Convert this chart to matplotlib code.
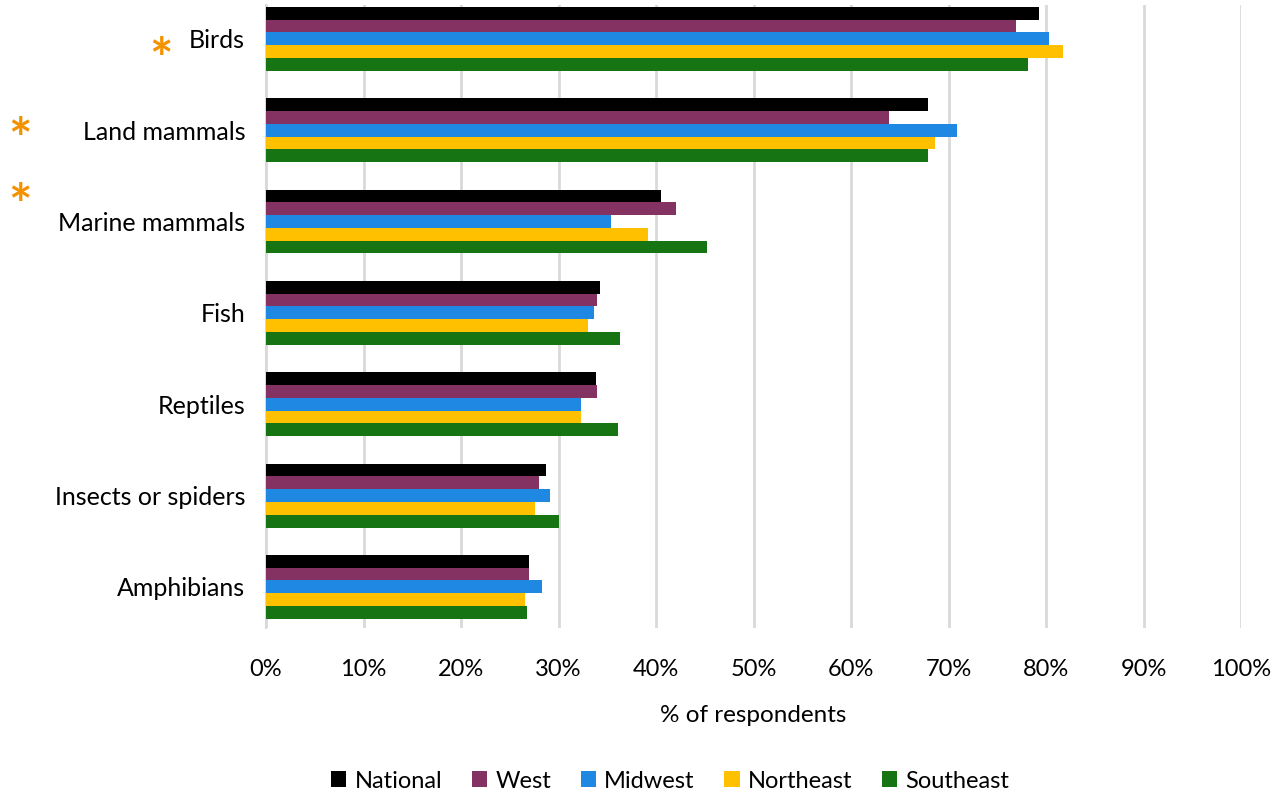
import numpy as np
import matplotlib.pyplot as plt
from matplotlib.ticker import PercentFormatter

plt.rcParams['font.family'] = ['Lato', 'DejaVu Sans']

categories = ['Birds', 'Land mammals', 'Marine mammals', 'Fish', 'Reptiles',
              'Insects or spiders', 'Amphibians']
series = ['National', 'West', 'Midwest', 'Northeast', 'Southeast']
national = [79.3, 67.9, 40.5, 34.3, 33.8, 28.7, 27.0]
west = [76.9, 63.9, 42.0, 33.9, 33.9, 28.0, 27.0]
midwest = [80.3, 70.9, 35.4, 33.6, 32.3, 29.1, 28.3]
northeast = [81.7, 68.6, 39.2, 33.0, 32.3, 27.6, 26.6]
southeast = [78.2, 67.9, 45.2, 36.3, 36.1, 30.0, 26.8]
colors = ['#000000', '#833262', '#1F88E3', '#FFC000', '#167413']
starred = ['Birds', 'Land mammals', 'Marine mammals']

values = [national, west, midwest, northeast, southeast]

fig = plt.figure(figsize=(12.74, 7.94), dpi=100)
ax = fig.add_axes([266/1274, 1-628/794, 975/1274, 623/794])

y = np.arange(len(categories))
h = 0.14
for i, (name, vals, c) in enumerate(zip(series, values, colors)):
    ax.barh(y - 2*h + i*h, vals, height=h, color=c, label=name, zorder=3)

ax.set_xlim(0, 100)
ax.set_ylim(6.45, -0.37)
ax.set_xticks(np.arange(0, 101, 10))
ax.xaxis.set_major_formatter(PercentFormatter(decimals=0))
ax.set_yticks(y)
ax.set_yticklabels(categories)
ax.tick_params(axis='x', length=0, labelsize=17, pad=22)
ax.tick_params(axis='y', length=0, labelsize=18, pad=15)
ax.grid(axis='x', color='#d9d9d9', linewidth=2, zorder=0)
for s in ['top', 'right', 'bottom']:
    ax.spines[s].set_visible(False)
ax.spines['left'].set_color('#d9d9d9')
ax.spines['left'].set_linewidth(1.5)
ax.set_xlabel('% of respondents', fontsize=17.5, labelpad=18)

# orange asterisks
star_pos = {'Birds': (161, 47), 'Land mammals': (20, 127), 'Marine mammals': (20, 193)}
for cat in starred:
    px, py = star_pos[cat]
    fig.text(px/1274, 1-(py+15)/794, '*', color='#F39200', fontsize=40,
             ha='center', va='center', fontweight='bold')

fig.legend(loc='center', bbox_to_anchor=(0.526, 1-781/794), ncol=5,
           frameon=False, fontsize=17, handlelength=0.65, handleheight=0.65,
           handletextpad=0.35, columnspacing=1.25)

fig.savefig('out.png', dpi=100)
